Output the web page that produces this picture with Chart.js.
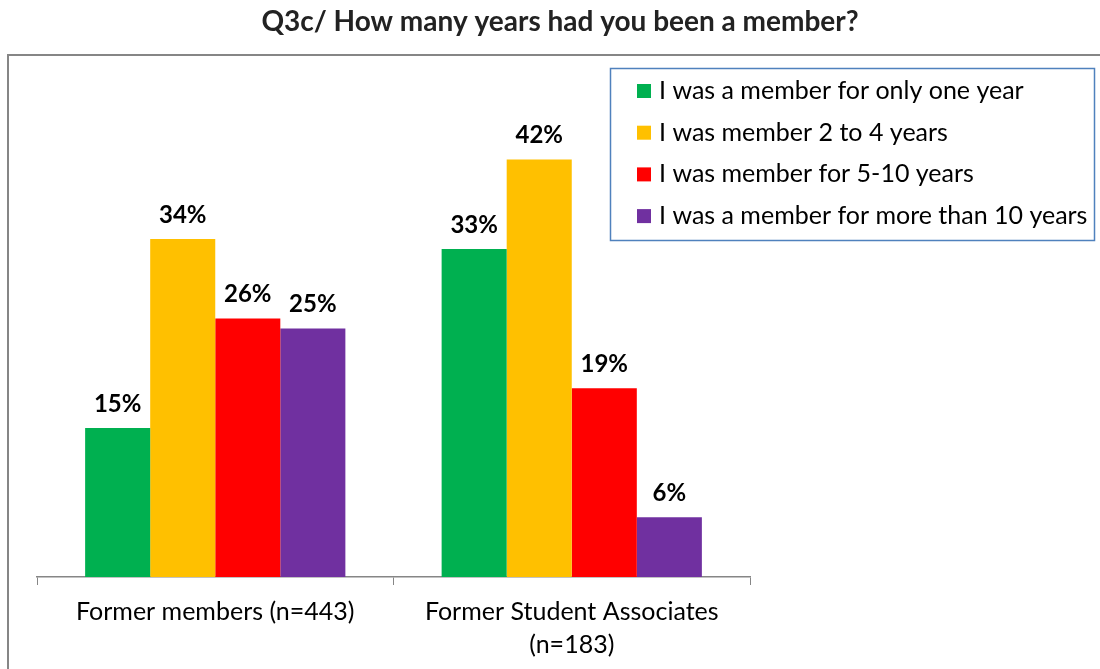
<!DOCTYPE html>
<html>
<head>
<meta charset="utf-8">
<script src="https://cdn.jsdelivr.net/npm/chart.js@4/dist/chart.umd.min.js"></script>
<style>
html,body{margin:0;padding:0;background:#fff;}
#wrap{position:relative;width:1100px;height:669px;}
canvas{display:block;}
</style>
</head>
<body>
<div id="wrap"><canvas id="c" width="1100" height="669"></canvas></div>
<script>
const titleText = "Q3c/ How many years had you been a member?";
const categories = [["Former members (n=443)"], ["Former Student Associates", "(n=183)"]];
const seriesNames = [
  "I was a member for only one year",
  "I was member 2 to 4 years",
  "I was member for 5-10 years",
  "I was a member for more than 10 years"
];
const seriesColors = ["#00B050", "#FFC000", "#FF0000", "#7030A0"];
const oneYear = [15, 33];
const twoToFour = [34, 42];
const fiveToTen = [26, 19];
const moreThanTen = [25, 6];
const seriesValues = [oneYear, twoToFour, fiveToTen, moreThanTen];

const FONT = "Lato, 'Open Sans', sans-serif";

const decorPlugin = {
  id: 'decor',
  beforeDraw(chart) {
    const ctx = chart.ctx;
    ctx.save();
    ctx.fillStyle = '#fff';
    ctx.fillRect(0, 0, chart.width, chart.height);
    // outer frame
    ctx.strokeStyle = '#868686';
    ctx.lineWidth = 2;
    ctx.strokeRect(8, 55, 1200, 700);
    // title
    ctx.fillStyle = '#222';
    ctx.font = "bold 28px " + FONT;
    ctx.textAlign = 'center';
    ctx.textBaseline = 'middle';
    ctx.fillText(titleText, 560, 22);
    ctx.restore();
  },
  afterDatasetsDraw(chart) {
    const ctx = chart.ctx;
    ctx.save();
    // value labels
    ctx.font = "bold 24px " + FONT;
    ctx.fillStyle = '#000';
    ctx.textAlign = 'center';
    ctx.textBaseline = 'middle';
    chart.data.datasets.forEach((ds, i) => {
      const meta = chart.getDatasetMeta(i);
      meta.data.forEach((bar, j) => {
        ctx.fillText(ds.data[j] + '%', bar.x, bar.y - 24);
      });
    });
    // legend box
    ctx.strokeStyle = '#4F81BD';
    ctx.lineWidth = 1.5;
    ctx.strokeRect(610.5, 68.5, 484, 172);
    ctx.font = "25px " + FONT;
    ctx.textAlign = 'left';
    ctx.textBaseline = 'middle';
    chart.data.datasets.forEach((ds, i) => {
      const cy = 91 + i * 41.7;
      ctx.fillStyle = ds.backgroundColor;
      ctx.fillRect(637, cy - 7, 14, 14);
      ctx.fillStyle = '#000';
      ctx.fillText(ds.label, 659, cy);
    });
    ctx.restore();
  }
};

new Chart(document.getElementById('c'), {
  type: 'bar',
  data: {
    labels: categories,
    datasets: seriesNames.map((n, i) => ({
      label: n,
      data: seriesValues[i],
      backgroundColor: seriesColors[i],
      borderWidth: 0,
      categoryPercentage: 0.73,
      barPercentage: 1.0
    }))
  },
  options: {
    responsive: false,
    animation: false,
    devicePixelRatio: 1,
    layout: { padding: { left: 37, right: 350, top: 80, bottom: 0 } },
    plugins: { legend: { display: false }, title: { display: false }, tooltip: { enabled: false } },
    scales: {
      x: {
        grid: { display: true, drawOnChartArea: false, drawTicks: true, tickLength: 8, color: '#868686', offset: true },
        border: { display: true, color: '#868686', width: 1.5 },
        ticks: { color: '#000', font: { family: FONT, size: 25, lineHeight: 1.32 }, padding: 10, maxRotation: 0, autoSkip: false },
        afterFit(scale) { scale.height = 92; }
      },
      y: {
        display: false,
        min: 0,
        max: 50
      }
    }
  },
  plugins: [decorPlugin]
});
</script>
</body>
</html>
